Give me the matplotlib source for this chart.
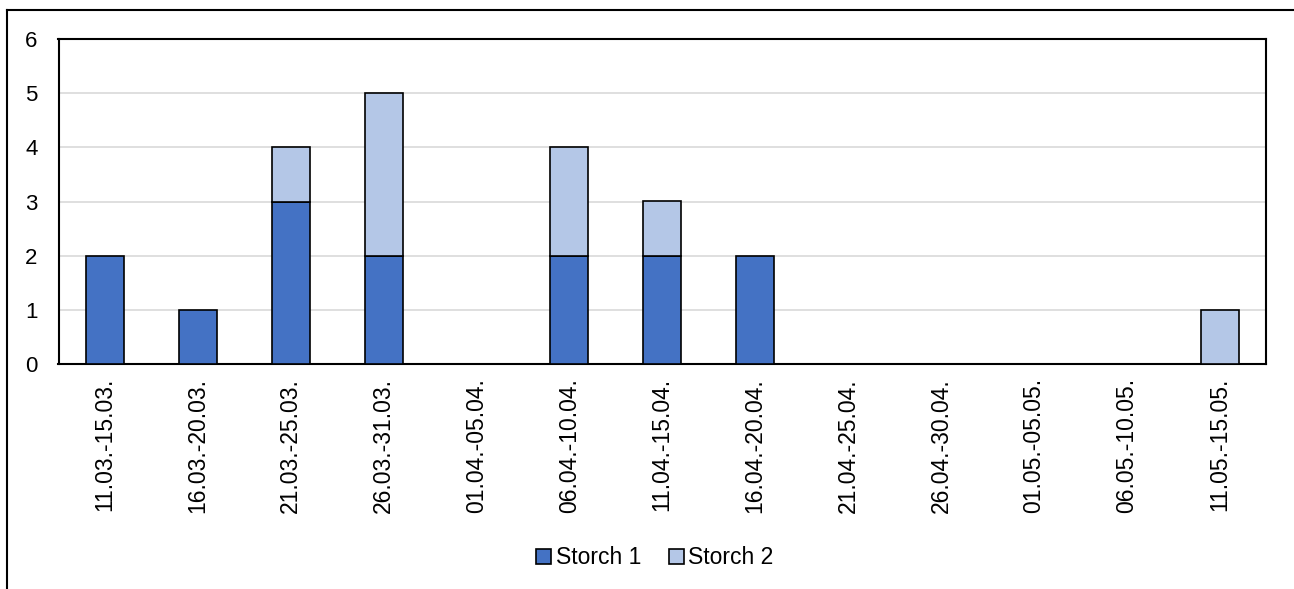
import numpy as np
import matplotlib.pyplot as plt
from matplotlib.lines import Line2D

plt.rcParams["font.family"] = ["Liberation Sans", "DejaVu Sans"]

periods = ["11.03.-15.03.", "16.03.-20.03.", "21.03.-25.03.", "26.03.-31.03.",
           "01.04.-05.04.", "06.04.-10.04.", "11.04.-15.04.", "16.04.-20.04.",
           "21.04.-25.04.", "26.04.-30.04.", "01.05.-05.05.", "06.05.-10.05.",
           "11.05.-15.05."]
storch1 = [2, 1, 3, 2, 0, 2, 2, 2, 0, 0, 0, 0, 0]
storch2 = [0, 0, 1, 3, 0, 2, 1, 0, 0, 0, 0, 0, 1]

fig = plt.figure(figsize=(12.94, 5.89), dpi=100)
ax = fig.add_axes([58.5 / 1294, 1 - 364 / 589, (1266 - 58.5) / 1294, (364 - 39) / 589])

x = np.arange(len(periods))
s1 = np.array(storch1, dtype=float)
s2 = np.array(storch2, dtype=float)
w = 0.41

m1 = s1 > 0
m2 = s2 > 0
ax.bar(x[m1], s1[m1], width=w, color="#4472C4", edgecolor="black", linewidth=1.2,
       label="Storch 1", zorder=3)
ax.bar(x[m2], s2[m2], bottom=s1[m2], width=w, color="#B4C7E7", edgecolor="black",
       linewidth=1.2, label="Storch 2", zorder=3)

ax.set_xlim(-0.5, len(periods) - 0.5)
ax.set_ylim(0, 6)
ax.set_yticks(range(7))
ax.yaxis.grid(True, color="#D9D9D9", linewidth=1.2, zorder=0)
ax.set_axisbelow(True)
ax.set_xticks(x)
ax.set_xticklabels(periods, rotation=90, va="top", ha="center")
ax.tick_params(axis="both", length=0)
ax.tick_params(axis="x", pad=10, labelsize=16.5)
ax.tick_params(axis="y", pad=15, labelsize=16)
for sp in ax.spines.values():
    sp.set_linewidth(1.5)
    sp.set_color("black")

ax.legend(loc="center", bbox_to_anchor=(655 / 1294, 1 - 558 / 589),
          bbox_transform=fig.transFigure, ncol=2, frameon=False, fontsize=16.5,
          handlelength=0.65, handleheight=0.65, handletextpad=0.2, columnspacing=1.2)

# partial outer frame
fig.add_artist(Line2D([7 / 1294, 1], [1 - 9.5 / 589, 1 - 9.5 / 589],
                      transform=fig.transFigure, color="black", linewidth=1.5))
fig.add_artist(Line2D([7 / 1294, 7 / 1294], [0, 1 - 9.5 / 589],
                      transform=fig.transFigure, color="black", linewidth=1.5))

fig.savefig("out.png", dpi=100, facecolor="white")
